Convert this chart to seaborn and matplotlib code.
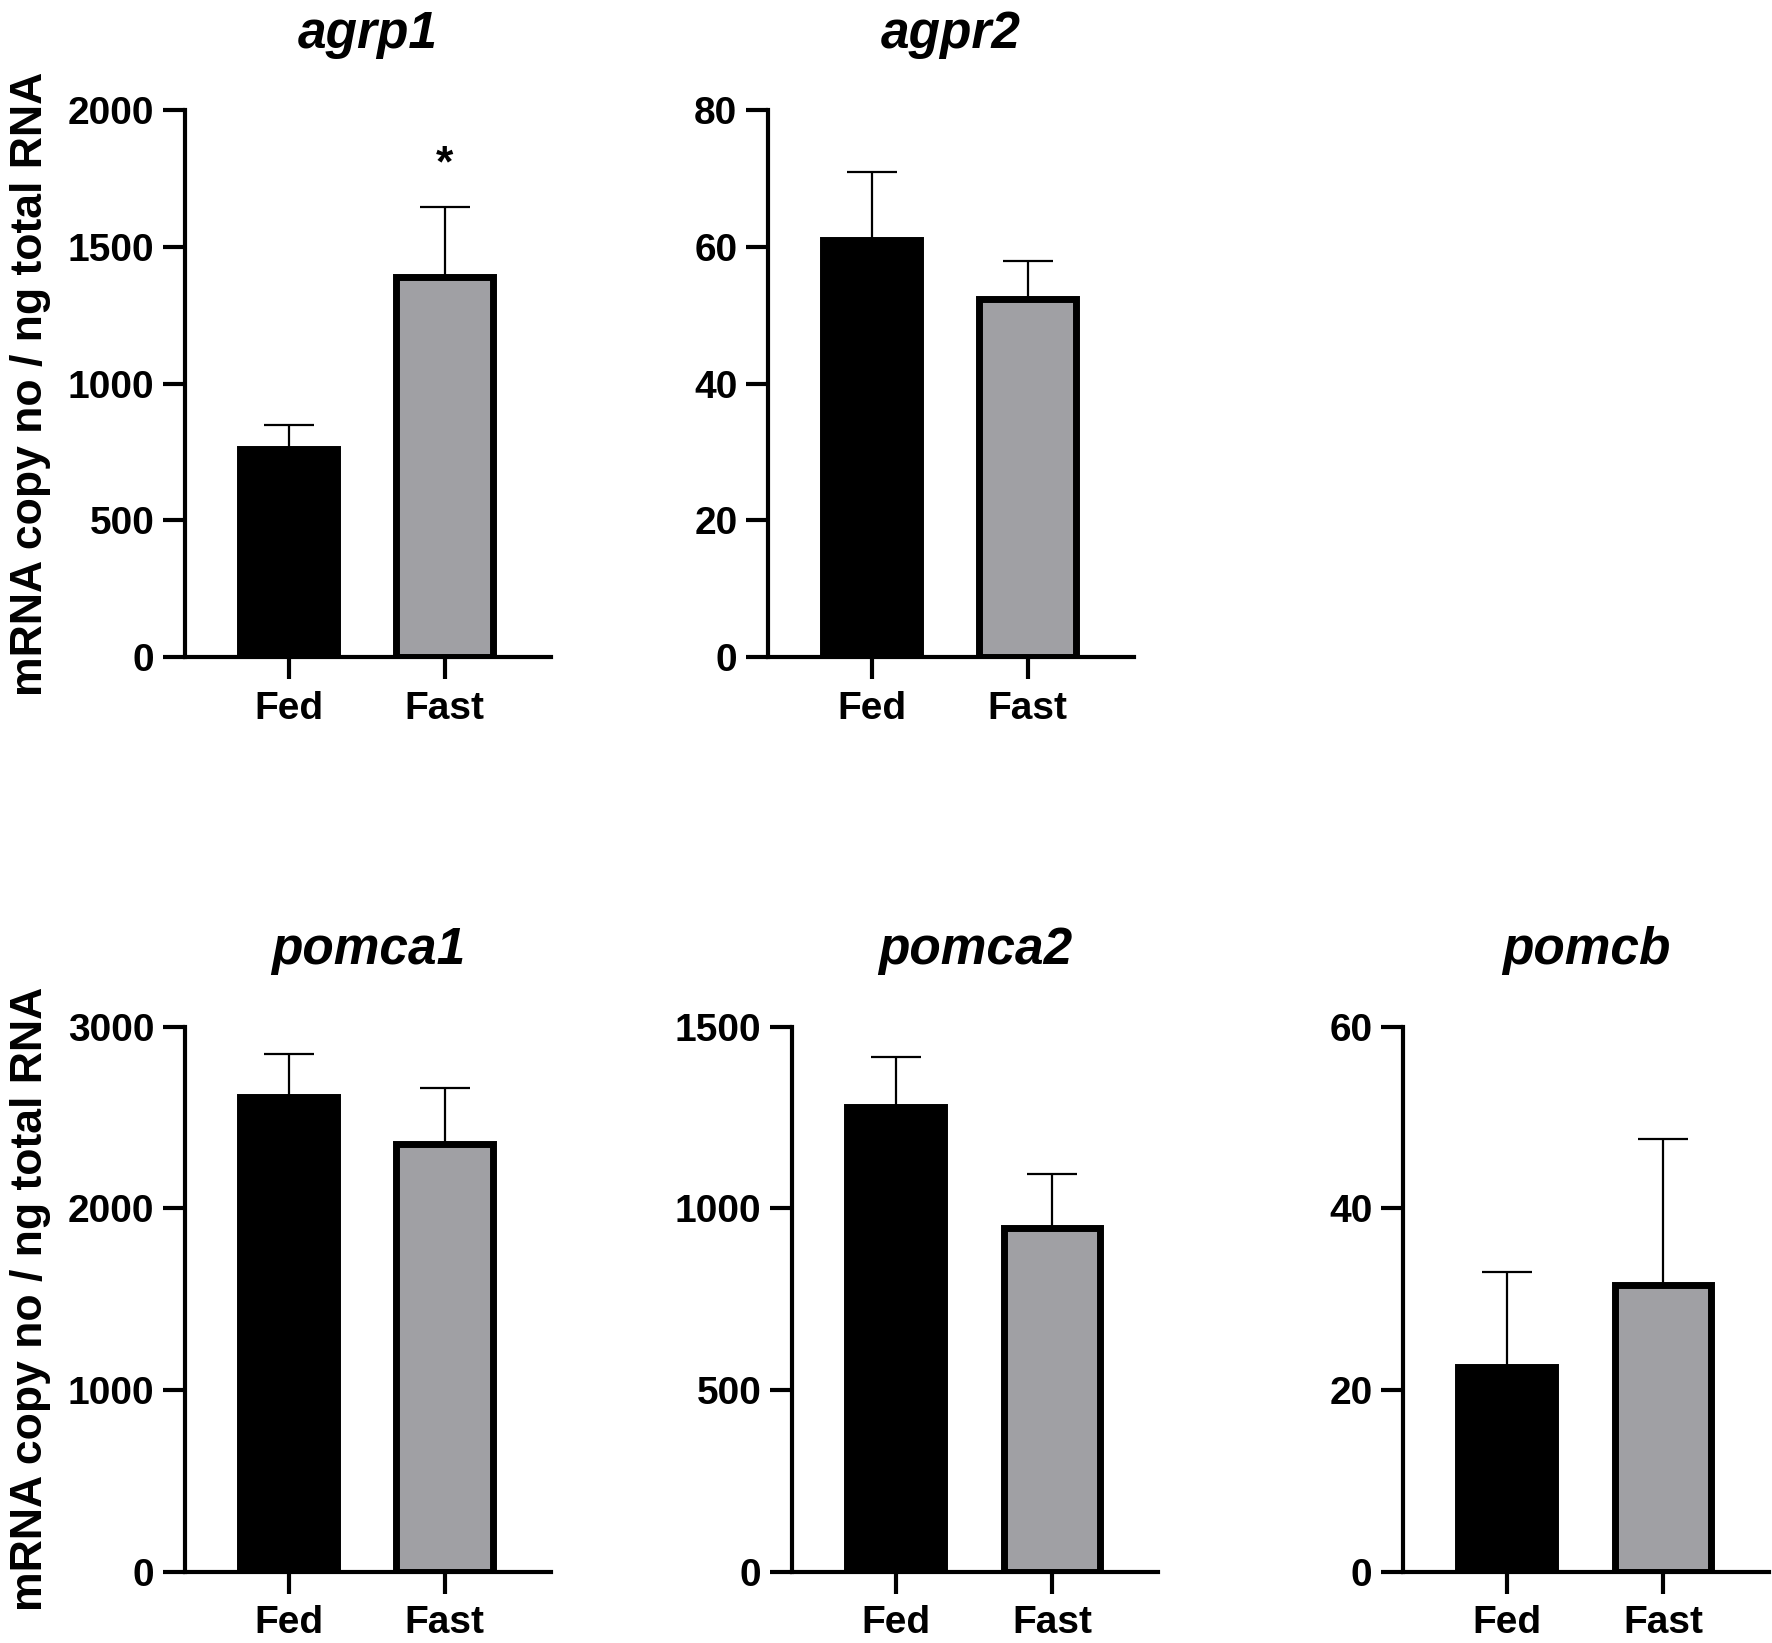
import matplotlib
matplotlib.use("Agg")
import matplotlib.pyplot as plt
import seaborn as sns
import pandas as pd

# -------------------------------------------------
# Data
# -------------------------------------------------
genes = ["agrp1", "agpr2", "pomca1", "pomca2", "pomcb"]
groups = ["Fed", "Fast"]

fed_mean = [762, 61.0, 2612, 1279, 22.6]
fed_sem = [86, 9.9, 238, 136, 10.4]
fast_mean = [1390, 52.4, 2356, 947, 31.6]
fast_sem = [255, 5.5, 306, 147, 16.0]

y_max = [2000, 80, 3000, 1500, 60]
y_step = [500, 20, 1000, 500, 20]

sig_gene = "agrp1"
sig_value = 1800

bar_colors = ["#000000", "#a0a0a4"]

sns.set_theme(style="ticks")
plt.rcParams["font.family"] = ["Liberation Sans", "DejaVu Sans"]
plt.rcParams["font.weight"] = "bold"
plt.rcParams["text.color"] = "black"
plt.rcParams["axes.labelcolor"] = "black"

fig = plt.figure(figsize=(17.72, 16.43), dpi=100)

# axes boxes in figure fractions [left, bottom, width, height]
positions = {
    "agrp1": [0.1044, 0.600, 0.2065, 0.333],
    "agpr2": [0.4334, 0.600, 0.2065, 0.333],
    "pomca1": [0.1044, 0.0432, 0.2065, 0.332],
    "pomca2": [0.4470, 0.0432, 0.2065, 0.332],
    "pomcb": [0.7918, 0.0432, 0.2065, 0.332],
}

for i, gene in enumerate(genes):
    ax = fig.add_axes(positions[gene])

    df = pd.DataFrame({
        "group": groups,
        "value": [fed_mean[i], fast_mean[i]],
    })

    sns.barplot(
        data=df,
        x="group",
        y="value",
        hue="group",
        palette=bar_colors,
        legend=False,
        errorbar=None,
        width=0.62,
        edgecolor="black",
        linewidth=5,
        ax=ax,
        zorder=2,
    )

    ax.errorbar(
        [0, 1],
        df["value"],
        yerr=[[0, 0], [fed_sem[i], fast_sem[i]]],
        fmt="none",
        ecolor="black",
        elinewidth=1.6,
        capsize=18,
        capthick=1.6,
        zorder=3,
    )

    if gene == sig_gene:
        ax.text(1, sig_value, "*", ha="center", va="center",
                fontsize=32, fontweight="bold", color="black")

    ax.set_xlim(-0.665, 1.68)
    ax.set_ylim(0, y_max[i])
    ax.set_yticks(range(0, y_max[i] + 1, y_step[i]))

    ax.set_title(gene, fontsize=37, fontweight="bold", style="italic",
                 pad=45, color="black")

    for side in ["top", "right"]:
        ax.spines[side].set_visible(False)
    for side in ["left", "bottom"]:
        ax.spines[side].set_linewidth(3)
        ax.spines[side].set_color("black")

    ax.tick_params(axis="both", length=16, width=3, color="black",
                   labelsize=28, labelcolor="black")
    ax.tick_params(axis="y", pad=6)
    ax.tick_params(axis="x", pad=8)
    for lab in ax.get_xticklabels() + ax.get_yticklabels():
        lab.set_fontweight("bold")

    ax.set_xlabel("")
    if gene in ["agrp1", "pomca1"]:
        ax.set_ylabel("mRNA copy no / ng total RNA", fontsize=32,
                      fontweight="bold", labelpad=12, color="black")
    else:
        ax.set_ylabel("")

    ax.set_facecolor("white")
    ax.grid(False)

fig.savefig("out.png", dpi=100, facecolor="white")
